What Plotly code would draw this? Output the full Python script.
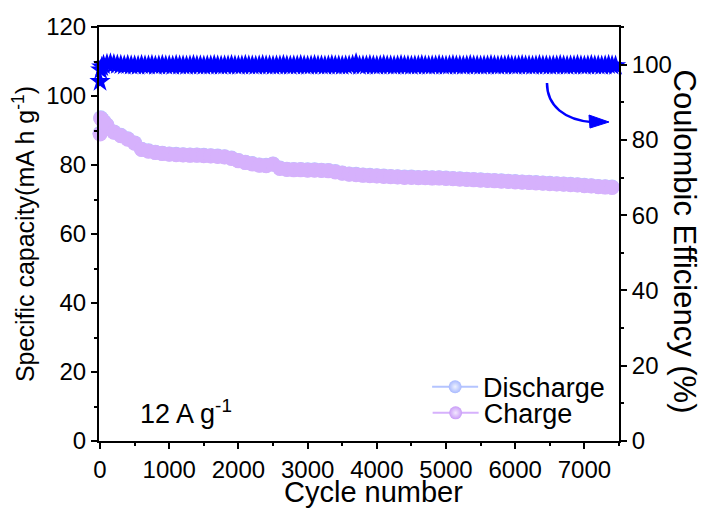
import plotly.graph_objects as go

# ---- data ----
cycles = [0, 10, 30, 60, 100, 200, 300, 400, 500, 600, 700, 800, 900, 1000,
          1100, 1200, 1300, 1400, 1500, 1600, 1700, 1800, 1900, 2000, 2100,
          2200, 2300, 2400, 2500, 2600, 2700, 2800, 2900, 3000, 3100, 3200,
          3300, 3400, 3500, 3600, 3700, 3800, 3900, 4000, 4100, 4200, 4300,
          4400, 4500, 4600, 4700, 4800, 4900, 5000, 5100, 5200, 5300, 5400,
          5500, 5600, 5700, 5800, 5900, 6000, 6100, 6200, 6300, 6400, 6500,
          6600, 6700, 6800, 6900, 7000, 7100, 7200, 7300, 7400]

charge = [89.0, 93.5, 93.0, 92.3, 91.5, 89.5, 88.5, 87.5, 86.3, 84.5, 84.0,
          83.6, 83.3, 83.1, 83.0, 82.9, 82.8, 82.8, 82.7, 82.6, 82.5, 82.3,
          81.9, 81.2, 80.7, 80.3, 79.9, 79.8, 80.2, 79.0, 78.7, 78.6, 78.6,
          78.5, 78.5, 78.4, 78.3, 78.0, 77.6, 77.3, 77.2, 77.0, 76.9, 76.8,
          76.7, 76.6, 76.5, 76.4, 76.4, 76.3, 76.3, 76.2, 76.2, 76.1, 76.0,
          75.9, 75.8, 75.7, 75.6, 75.5, 75.4, 75.3, 75.2, 75.1, 75.0, 74.9,
          74.8, 74.7, 74.6, 74.5, 74.4, 74.3, 74.2, 74.0, 73.9, 73.7, 73.6,
          73.5]

discharge = [89.2, 93.7, 93.2, 92.5, 91.6, 89.6, 88.6, 87.6, 86.4, 84.6, 84.1,
             83.7, 83.4, 83.2, 83.1, 83.0, 82.9, 82.9, 82.8, 82.7, 82.6, 82.4,
             82.0, 81.3, 80.8, 80.4, 80.0, 79.9, 80.3, 79.1, 78.8, 78.7, 78.7,
             78.6, 78.6, 78.5, 78.4, 78.1, 77.7, 77.4, 77.3, 77.1, 77.0, 76.9,
             76.8, 76.7, 76.6, 76.5, 76.5, 76.4, 76.4, 76.3, 76.3, 76.2, 76.1,
             76.0, 75.9, 75.8, 75.7, 75.6, 75.5, 75.4, 75.3, 75.2, 75.1, 75.0,
             74.9, 74.8, 74.7, 74.6, 74.5, 74.4, 74.3, 74.1, 74.0, 73.8, 73.7,
             73.6]

cycles_ce = [0, 10, 25,
             50, 100, 150, 200, 250, 300, 350, 400, 450, 500,
             550, 600, 650, 700, 750, 800, 850, 900, 950, 1000,
             1050, 1100, 1150, 1200, 1250, 1300, 1350, 1400, 1450, 1500,
             1550, 1600, 1650, 1700, 1750, 1800, 1850, 1900, 1950, 2000,
             2050, 2100, 2150, 2200, 2250, 2300, 2350, 2400, 2450, 2500,
             2550, 2600, 2650, 2700, 2750, 2800, 2850, 2900, 2950, 3000,
             3050, 3100, 3150, 3200, 3250, 3300, 3350, 3400, 3450, 3500,
             3550, 3600, 3650, 3700, 3750, 3800, 3850, 3900, 3950, 4000,
             4050, 4100, 4150, 4200, 4250, 4300, 4350, 4400, 4450, 4500,
             4550, 4600, 4650, 4700, 4750, 4800, 4850, 4900, 4950, 5000,
             5050, 5100, 5150, 5200, 5250, 5300, 5350, 5400, 5450, 5500,
             5550, 5600, 5650, 5700, 5750, 5800, 5850, 5900, 5950, 6000,
             6050, 6100, 6150, 6200, 6250, 6300, 6350, 6400, 6450, 6500,
             6550, 6600, 6650, 6700, 6750, 6800, 6850, 6900, 6950, 7000,
             7050, 7100, 7150, 7200, 7250, 7300, 7350, 7400, 7450]

efficiency = [95.5, 98.6, 99.4,
              99.9, 100.2, 100.3, 100.1, 100.0, 99.9, 99.8, 99.9, 99.8, 99.8,
              99.7, 99.9, 99.8, 99.8, 99.9, 99.7, 99.8, 99.9, 99.8, 99.8,
              99.7, 99.9, 99.8, 99.8, 99.7, 99.8, 99.9, 99.8, 99.8, 99.7,
              99.8, 99.8, 99.9, 99.8, 99.7, 99.8, 99.8, 99.9, 99.8, 99.7,
              99.8, 99.9, 99.8, 99.8, 99.7, 99.8, 99.9, 99.8, 99.8, 99.7,
              99.8, 99.8, 99.9, 99.8, 99.7, 99.8, 99.8, 99.9, 99.8, 99.7,
              99.8, 99.9, 99.8, 99.8, 99.7, 99.8, 99.9, 99.8, 99.8, 99.7,
              99.8, 99.8, 99.9, 100.4, 99.7, 99.8, 99.8, 99.9, 99.8, 99.7,
              99.8, 99.9, 99.8, 99.8, 99.7, 99.8, 99.9, 99.8, 99.8, 99.7,
              99.8, 99.8, 99.9, 99.8, 99.7, 99.8, 99.8, 99.9, 99.8, 99.7,
              99.8, 99.9, 99.8, 99.8, 99.7, 99.8, 99.9, 99.8, 99.8, 99.7,
              99.8, 99.8, 99.9, 99.8, 99.7, 99.8, 99.8, 99.9, 99.8, 99.7,
              99.8, 99.9, 99.8, 99.8, 99.7, 99.8, 99.9, 99.8, 99.8, 99.7,
              99.8, 99.8, 99.9, 99.8, 99.7, 99.8, 99.8, 99.9, 99.8, 99.7,
              99.8, 99.9, 99.8, 99.8, 99.7, 99.8, 99.9, 99.8, 99.7]

x_ticks = [0, 1000, 2000, 3000, 4000, 5000, 6000, 7000]
y_ticks = [0, 20, 40, 60, 80, 100, 120]
y2_ticks = [0, 20, 40, 60, 80, 100]

# ---- styles ----
FONT = "Liberation Sans, Arial, sans-serif"
PURPLE = "#d6b1fc"
LBLUE = "#b4c4ff"
BLUE = "#0000ff"

fig = go.Figure()

fig.add_trace(go.Scatter(x=cycles, y=discharge, mode="markers",
                         marker=dict(size=15, color=LBLUE, line=dict(width=0)),
                         showlegend=False, cliponaxis=False))
fig.add_trace(go.Scatter(x=cycles, y=charge, mode="markers",
                         marker=dict(size=15, color=PURPLE, line=dict(width=0)),
                         showlegend=False, cliponaxis=False))
fig.add_trace(go.Scatter(x=cycles_ce, y=efficiency, mode="markers", yaxis="y2",
                         marker=dict(symbol="star", size=16, color=BLUE,
                                     line=dict(width=0)),
                         showlegend=False, cliponaxis=False))

# legend-only entries (sphere look)
fig.add_trace(go.Scatter(x=[None], y=[None], mode="lines+markers",
                         name="Discharge", legend="legend",
                         line=dict(color=LBLUE, width=2),
                         marker=dict(size=13, color="#a8b9ff",
                                     gradient=dict(type="radial", color="#eef2ff"))))
fig.add_trace(go.Scatter(x=[None], y=[None], mode="lines+markers",
                         name="Charge", legend="legend2",
                         line=dict(color=PURPLE, width=2),
                         marker=dict(size=13, color="#c99cf7",
                                     gradient=dict(type="radial", color="#f3e8ff"))))

axis_common = dict(showline=True, linecolor="black", linewidth=2,
                   ticks="outside", tickcolor="black", tickwidth=2, ticklen=6,
                   showgrid=False, zeroline=False, automargin=False,
                   tickfont=dict(family=FONT, size=24, color="black"))

legend_common = dict(xanchor="left", yanchor="middle",
                     bgcolor="rgba(0,0,0,0)", borderwidth=0,
                     font=dict(family=FONT, size=27, color="black"),
                     itemwidth=46, itemsizing="trace")

fig.update_layout(
    width=703, height=508,
    margin=dict(l=99, r=84, t=27, b=67, autoexpand=False),
    plot_bgcolor="white", paper_bgcolor="white",
    font=dict(family=FONT, color="black"),
    xaxis=dict(range=[-15, 7500], tickvals=x_ticks, mirror=True,
               minor=dict(dtick=500, tick0=0, ticks="outside", ticklen=3,
                          tickwidth=2, tickcolor="black"),
               **axis_common),
    yaxis=dict(range=[0, 120], tickvals=y_ticks,
               minor=dict(dtick=10, tick0=0, ticks="outside", ticklen=3,
                          tickwidth=2, tickcolor="black"),
               title=dict(text="Specific capacity(mA h g<sup>-1</sup>)",
                          font=dict(family=FONT, size=25), standoff=4),
               **axis_common),
    yaxis2=dict(range=[0, 110], tickvals=y2_ticks, overlaying="y", side="right",
                minor=dict(dtick=10, tick0=0, ticks="outside", ticklen=3,
                           tickwidth=2, tickcolor="black"),
                **axis_common),
    legend=dict(x=0.631, y=0.130, **legend_common),
    legend2=dict(x=0.632, y=0.067, **legend_common),
    showlegend=True,
)

# x axis title
fig.add_annotation(text="Cycle number", xref="paper", yref="paper",
                   x=0.527, y=-0.123, xanchor="center", yanchor="middle",
                   showarrow=False, font=dict(family=FONT, size=29, color="black"))

# right axis title (reads top to bottom)
fig.add_annotation(text="Coulombic Efficiency (%)", xref="paper", yref="paper",
                   x=1.126, y=0.483, xanchor="center", yanchor="middle",
                   textangle=90, showarrow=False,
                   font=dict(family=FONT, size=31, color="black"))

# current density label
fig.add_annotation(text="12 A g<sup>-1</sup>", xref="paper", yref="paper",
                   x=0.075, y=0.07, xanchor="left", yanchor="middle",
                   showarrow=False, font=dict(family=FONT, size=27, color="black"))

# curved arrow pointing to the right axis
fig.add_shape(type="path", xref="paper", yref="paper",
              path="M 0.8615 0.8647 C 0.8615 0.81, 0.895 0.775, 0.95 0.770",
              line=dict(color=BLUE, width=2.5))
fig.add_shape(type="path", xref="paper", yref="paper",
              path="M 0.9808 0.7705 L 0.9423 0.7874 L 0.9442 0.7560 Z",
              fillcolor=BLUE, line=dict(color=BLUE, width=1))

fig.write_html("out.html")
